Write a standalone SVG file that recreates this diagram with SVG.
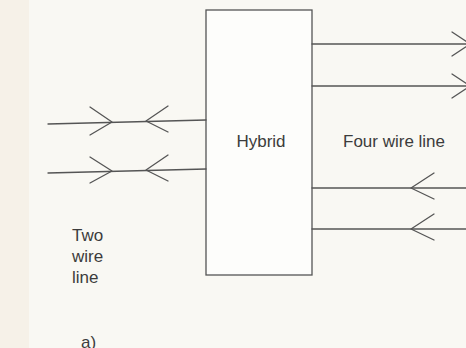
<svg xmlns="http://www.w3.org/2000/svg" width="466" height="348" viewBox="0 0 466 348">
<style>
.w{fill:none;stroke:#555;stroke-width:1.3;stroke-linecap:round;stroke-linejoin:round}
.t{font-family:"Liberation Sans",Arial,sans-serif;font-size:17px;fill:#3c3c3c}
</style>
<rect x="0" y="0" width="466" height="348" fill="#f9f8f3"/>
<rect x="0" y="0" width="29" height="348" fill="#f6f1e8"/>
<g id="hybrid">
<rect x="206" y="10" width="106" height="265" fill="#fdfdfb" stroke="#555" stroke-width="1.3"/>
<text class="t" x="261" y="147" text-anchor="middle">Hybrid</text>
</g>
<g id="two-wire-label">
<text class="t" x="72" y="241">Two</text>
<text class="t" x="72" y="262">wire</text>
<text class="t" x="72" y="283">line</text>
</g>
<g id="four-wire-label">
<text class="t" x="343" y="147">Four wire line</text>
</g>
<g id="caption">
<text class="t" x="81" y="348">a)</text>
</g>
<g id="connectors">
<path class="w" d="M48 124 L206 120"/>
<path class="w" d="M90 107 L112 122 L90 135"/>
<path class="w" d="M168 106 L146 121 L168 132"/>
<path class="w" d="M48 173 L206 169"/>
<path class="w" d="M90 157 L112 171 L90 183"/>
<path class="w" d="M168 155 L146 170 L168 181"/>
<path class="w" d="M312 44 L470 44"/>
<path class="w" d="M452 32 L470 44 L452 56"/>
<path class="w" d="M312 86 L470 86"/>
<path class="w" d="M452 74 L470 86 L452 98"/>
<path class="w" d="M312 188 L470 188"/>
<path class="w" d="M434 173 L411 188 L434 199"/>
<path class="w" d="M312 229 L470 229"/>
<path class="w" d="M434 214 L411 229 L434 240"/>
</g>
</svg>
